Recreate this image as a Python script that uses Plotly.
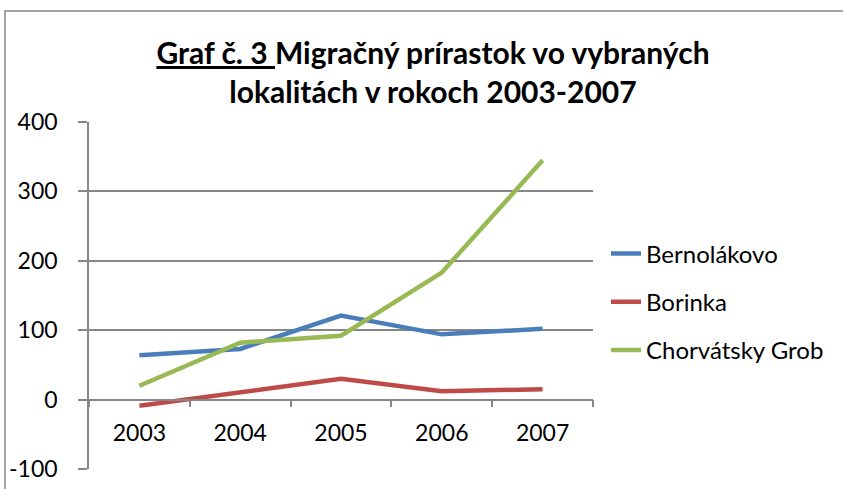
import plotly.graph_objects as go

years = ["2003", "2004", "2005", "2006", "2007"]
bernolakovo = [64, 73, 121, 94, 102]
borinka = [-9, 11, 30, 12, 15]
chorvatsky_grob = [20, 82, 92, 183, 345]
y_ticks = [-100, 0, 100, 200, 300, 400]
y_tick_labels = ["-100", "0", "100", "200", "300", "400"]

series = [
    ("Bernolákovo", bernolakovo, "#4A7EBB"),
    ("Borinka", borinka, "#BE4B48"),
    ("Chorvátsky Grob", chorvatsky_grob, "#98B954"),
]

FONT = "Lato"
fig = go.Figure()
for i, (name, vals, col) in enumerate(series):
    fig.add_trace(go.Scatter(
        x=years, y=vals, name=name, mode="lines",
        line=dict(color=col, width=4.5),
        legendgroup=str(i),
    ))

ymin, ymax = -100, 400
zero_pos = (0 - ymin) / (ymax - ymin)

L, R, T, B = 89, 593, 122, 469
W, H = 843, 489
pw, ph = R - L, B - T

fig.update_layout(
    width=W, height=H,
    paper_bgcolor="white", plot_bgcolor="white",
    margin=dict(l=L, r=W - R, t=T, b=H - B, autoexpand=False),
    font=dict(family=FONT, size=23, color="black"),
    title=dict(
        text="<b><u>Graf č. 3 </u>Migračný prírastok vo vybraných<br>lokalitách v rokoch 2003-2007</b>",
        x=433 / W, xanchor="center", y=1 - 64 / H, yanchor="middle",
        font=dict(family=FONT, size=30, color="black"),
    ),
    legend=dict(
        x=(606 - L) / pw, xanchor="left", y=(B - 302) / ph, yanchor="middle",
        font=dict(family=FONT, size=24),
        tracegroupgap=14, bgcolor="rgba(0,0,0,0)",
    ),
    xaxis=dict(
        type="category", anchor="free", position=zero_pos, automargin=False,
        showgrid=False, showline=True, linecolor="#868686", linewidth=1.5,
        ticks="outside", ticklen=7, tickcolor="#868686", tickwidth=1.5,
        tickson="boundaries", ticklabelstandoff=13,
        tickfont=dict(family=FONT, size=23),
        range=[-0.5, 4.5], zeroline=False,
    ),
    yaxis=dict(
        range=[ymin, ymax], tickvals=y_ticks, ticktext=y_tick_labels,
        showgrid=True, automargin=False,
        gridcolor="#868686", gridwidth=1.5, zeroline=False,
        showline=True, linecolor="#868686", linewidth=1.5,
        ticks="outside", ticklen=9, tickcolor="#868686", tickwidth=1.5,
        ticklabelstandoff=16,
        tickfont=dict(family=FONT, size=23),
    ),
    shapes=[dict(
        type="rect", xref="paper", yref="paper",
        x0=(5 - L) / pw, x1=(900 - L) / pw,
        y0=(B - 520) / ph, y1=(B - 11) / ph,
        line=dict(color="#878787", width=1.5), layer="below",
    )],
)

fig.write_html("out.html", config={"displayModeBar": False},
               post_script="document.body.style.margin='0';")
